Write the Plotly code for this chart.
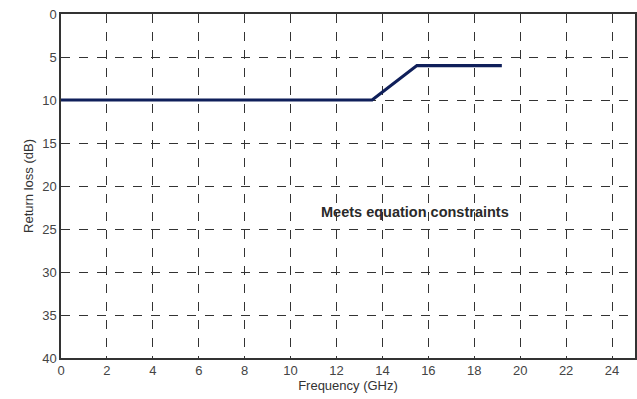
import plotly.graph_objects as go

freq = [0, 13.55, 15.5, 19.2]
return_loss = [10, 10, 6, 6]
x_ticks = list(range(0, 25, 2))
y_ticks = list(range(0, 45, 5))

fig = go.Figure()
fig.add_trace(go.Scatter(x=freq, y=return_loss, mode="lines",
                         line=dict(color="#0f1f5a", width=3.2), showlegend=False))

fig.add_annotation(x=15.43, y=23.0, text="<b>Meets equation constraints</b>", showarrow=False,
                   font=dict(family="Liberation Sans, Arial", size=14.5, color="#2a2a2a"))

axis_common = dict(showgrid=True, gridcolor="#333333", griddash="dash", gridwidth=1,
                   showline=True, linecolor="#333333", linewidth=1.5, mirror=True,
                   zeroline=False, ticks="", automargin=False,
                   tickfont=dict(family="Liberation Sans, Arial", size=13, color="#444444"))

fig.update_xaxes(range=[0, 25], tickvals=x_ticks, title=dict(text="Frequency (GHz)", standoff=2,
                 font=dict(family="Liberation Sans, Arial", size=13, color="#333333")), **axis_common)
fig.update_yaxes(range=[40, 0], tickvals=y_ticks, title=dict(text="Return loss (dB)", standoff=6,
                 font=dict(family="Liberation Sans, Arial", size=13, color="#333333")), **axis_common)

fig.update_layout(width=637, height=399, margin=dict(l=61, r=2, t=14, b=41),
                  plot_bgcolor="white", paper_bgcolor="white")
fig.write_html("out.html", config={"displayModeBar": False},
               post_script="document.body.style.margin='0';document.body.style.overflow='hidden';")
